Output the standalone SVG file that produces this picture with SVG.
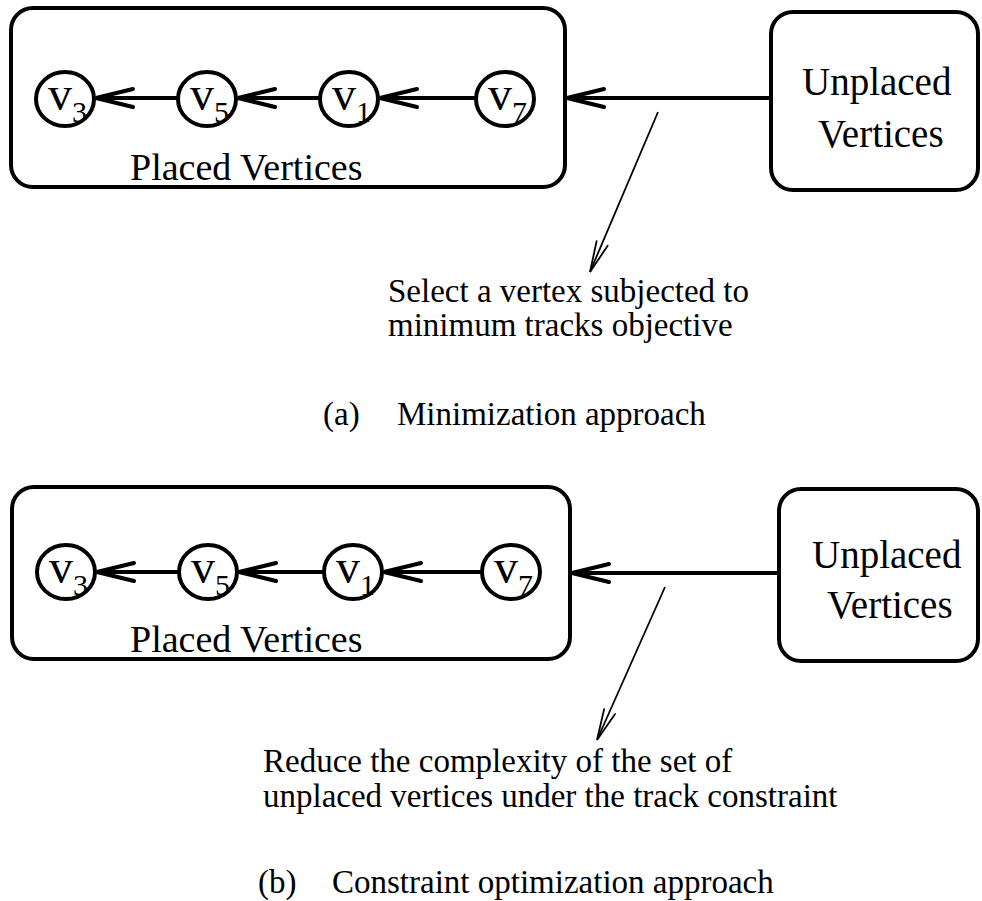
<svg xmlns="http://www.w3.org/2000/svg" width="982" height="901" viewBox="0 0 982 901">
<style>
text{font-family:"Liberation Serif","Times New Roman",serif;fill:#000}
.box{fill:none;stroke:#000;stroke-width:4}
.v{fill:#fff;stroke:#000;stroke-width:4}
.vl{font-size:48px}
.sub{font-size:30px}
.lbl{font-size:38px}
.ul{font-size:39px}
.cap{font-size:33px}
.thick{stroke:#000;stroke-width:4;fill:none;marker-end:url(#ah)}
.thin{stroke:#000;stroke-width:1.8;fill:none;marker-end:url(#ahs)}
</style>
<defs>
<marker id="ah" markerUnits="userSpaceOnUse" markerWidth="44" markerHeight="24" viewBox="0 0 44 24" refX="40" refY="12" orient="auto">
<path d="M3,3 L40,12 L3,21" fill="none" stroke="#000" stroke-width="4" stroke-linecap="round"/>
</marker>
<marker id="ahs" markerUnits="userSpaceOnUse" markerWidth="36" markerHeight="20" viewBox="0 0 36 20" refX="33" refY="10" orient="auto">
<path d="M2,4 L33,10 L2,16" fill="none" stroke="#000" stroke-width="1.8" stroke-linecap="round"/>
</marker>
</defs>
<rect width="982" height="901" fill="#fff"/>

<!-- (a) -->
<g id="placed-a">
<rect class="box" x="11" y="8" width="554" height="179" rx="22"/>
<text class="lbl" x="130" y="180">Placed Vertices</text>
</g>
<g id="unplaced-a">
<rect class="box" x="771" y="12" width="207" height="178" rx="22"/>
<text class="ul" x="802" y="95">Unplaced</text>
<text class="ul" x="818" y="147">Vertices</text>
</g>
<g id="a-v3"><ellipse class="v" cx="65" cy="99" rx="29" ry="27"/><text class="vl" x="48" y="110">v<tspan class="sub" dy="12">3</tspan></text></g>
<g id="a-v5"><ellipse class="v" cx="207" cy="99" rx="29" ry="27"/><text class="vl" x="190" y="110">v<tspan class="sub" dy="12">5</tspan></text></g>
<g id="a-v1"><ellipse class="v" cx="349" cy="99" rx="29" ry="27"/><text class="vl" x="332" y="110">v<tspan class="sub" dy="12">1</tspan></text></g>
<g id="a-v7"><ellipse class="v" cx="505" cy="99" rx="29" ry="27"/><text class="vl" x="488" y="110">v<tspan class="sub" dy="12">7</tspan></text></g>
<g id="a-note">
<text class="cap" x="388" y="302">Select a vertex subjected to</text>
<text class="cap" x="388" y="336">minimum tracks objective</text>
</g>
<g id="a-caption">
<text class="cap" y="425"><tspan x="323">(a)</tspan><tspan x="397">Minimization approach</tspan></text>
</g>

<!-- (b) -->
<g id="placed-b">
<rect class="box" x="12" y="487" width="558" height="172" rx="22"/>
<text class="lbl" x="130" y="652">Placed Vertices</text>
</g>
<g id="unplaced-b">
<rect class="box" x="779" y="489" width="199" height="172" rx="22"/>
<text class="ul" x="812" y="568">Unplaced</text>
<text class="ul" x="827" y="618">Vertices</text>
</g>
<g id="b-v3"><ellipse class="v" cx="66" cy="572" rx="29" ry="27"/><text class="vl" x="49" y="583">v<tspan class="sub" dy="12">3</tspan></text></g>
<g id="b-v5"><ellipse class="v" cx="208" cy="572" rx="29" ry="27"/><text class="vl" x="191" y="583">v<tspan class="sub" dy="12">5</tspan></text></g>
<g id="b-v1"><ellipse class="v" cx="353" cy="572" rx="29" ry="27"/><text class="vl" x="336" y="583">v<tspan class="sub" dy="12">1</tspan></text></g>
<g id="b-v7"><ellipse class="v" cx="511" cy="572" rx="29" ry="27"/><text class="vl" x="494" y="583">v<tspan class="sub" dy="12">7</tspan></text></g>
<g id="b-note">
<text class="cap" x="263" y="772">Reduce the complexity of the set of</text>
<text class="cap" x="263" y="807">unplaced vertices under the track constraint</text>
</g>
<g id="b-caption">
<text class="cap" y="893"><tspan x="258">(b)</tspan><tspan x="332">Constraint optimization approach</tspan></text>
</g>

<g id="connectors">
<path class="thick" d="M476,98 L380,98"/>
<path class="thick" d="M320,98 L238,98"/>
<path class="thick" d="M178,98 L96,98"/>
<path class="thick" d="M771,98 L567,98"/>
<path class="thin" d="M658,112 L590,272"/>
<path class="thick" d="M482,572 L384,572"/>
<path class="thick" d="M324,572 L239,572"/>
<path class="thick" d="M179,572 L97,572"/>
<path class="thick" d="M779,573 L572,573"/>
<path class="thin" d="M665,587 L597,740"/>
</g>
</svg>
